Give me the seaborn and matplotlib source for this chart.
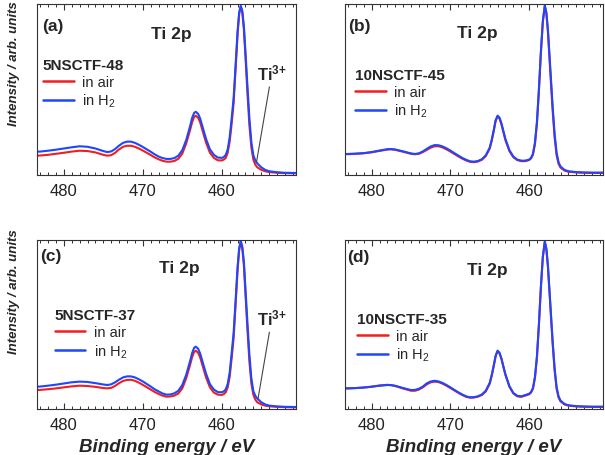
import numpy as np
import pandas as pd
import matplotlib
matplotlib.use("Agg")
import matplotlib.pyplot as plt
from matplotlib.ticker import MultipleLocator
from matplotlib import font_manager
import seaborn as sns

# ---------------- data ----------------
ev_ac = [483.4, 483, 482, 481, 480, 479, 478, 477, 476, 475,
         474.5, 474, 473.5, 473, 472.5, 472, 471.5, 471, 470.5, 470,
         469.5, 469, 468.5, 468, 467.5, 467, 466.5, 466, 465.5, 465,
         464.5, 464, 463.75, 463.5, 463.3, 463, 462.75, 462.5, 462.25, 462,
         461.5, 461, 460.5, 460, 459.75, 459.5, 459.25, 459, 458.75, 458.5,
         458.25, 458, 457.8, 457.6, 457.4, 457.2, 457, 456.75, 456.5, 456.25,
         456, 455.75, 455.5, 455, 454.5, 454, 453, 452, 451, 450.6]

ev_bd = [483.4, 483, 482, 481, 480, 479, 478, 477.5, 477, 476,
         475, 474.5, 474, 473.5, 473, 472.5, 472, 471.5, 471, 470.5,
         470, 469.5, 469, 468.5, 468, 467.5, 467, 466.5, 466, 465.5,
         465, 464.75, 464.5, 464.25, 464, 463.75, 463.5, 463.25, 463, 462.5,
         462, 461.5, 461, 460.5, 460, 459.75, 459.5, 459.25, 459, 458.75,
         458.5, 458.25, 458, 457.8, 457.6, 457.4, 457.2, 457, 456.75, 456.5,
         456.25, 456, 455.5, 455, 454, 453, 452, 451, 450.6]

a_air = [0.113, 0.114, 0.118, 0.124, 0.130, 0.137, 0.142, 0.140, 0.132, 0.118,
         0.113, 0.116, 0.130, 0.150, 0.165, 0.171, 0.171, 0.165, 0.155, 0.143,
         0.130, 0.117, 0.103, 0.092, 0.083, 0.078, 0.078, 0.082, 0.095, 0.125,
         0.185, 0.265, 0.310, 0.340, 0.347, 0.335, 0.310, 0.270, 0.230, 0.190,
         0.130, 0.100, 0.086, 0.085, 0.090, 0.100, 0.130, 0.195, 0.300, 0.420,
         0.620, 0.820, 0.940, 0.985, 0.950, 0.850, 0.690, 0.480, 0.290, 0.160,
         0.090, 0.060, 0.045, 0.030, 0.022, 0.017, 0.013, 0.011, 0.010, 0.010]
a_h2 = [0.136, 0.137, 0.142, 0.148, 0.155, 0.162, 0.168, 0.165, 0.155, 0.140,
        0.134, 0.138, 0.152, 0.172, 0.188, 0.195, 0.195, 0.188, 0.177, 0.164,
        0.150, 0.136, 0.121, 0.108, 0.099, 0.094, 0.094, 0.099, 0.113, 0.145,
        0.205, 0.288, 0.335, 0.363, 0.370, 0.358, 0.332, 0.292, 0.252, 0.212,
        0.150, 0.118, 0.102, 0.100, 0.105, 0.117, 0.150, 0.220, 0.330, 0.450,
        0.640, 0.840, 0.950, 0.990, 0.960, 0.870, 0.720, 0.520, 0.330, 0.190,
        0.115, 0.085, 0.068, 0.045, 0.030, 0.022, 0.016, 0.013, 0.012, 0.012]

c_air = [0.112, 0.113, 0.117, 0.122, 0.128, 0.134, 0.138, 0.136, 0.131, 0.124,
         0.122, 0.125, 0.137, 0.153, 0.166, 0.172, 0.173, 0.167, 0.156, 0.143,
         0.129, 0.115, 0.101, 0.089, 0.079, 0.073, 0.074, 0.079, 0.092, 0.122,
         0.183, 0.263, 0.308, 0.338, 0.345, 0.333, 0.307, 0.268, 0.228, 0.188,
         0.128, 0.097, 0.085, 0.083, 0.088, 0.099, 0.128, 0.190, 0.300, 0.420,
         0.620, 0.820, 0.940, 0.990, 0.950, 0.850, 0.680, 0.470, 0.280, 0.150,
         0.085, 0.055, 0.040, 0.027, 0.020, 0.016, 0.013, 0.011, 0.010, 0.010]
c_h2 = [0.132, 0.133, 0.138, 0.144, 0.151, 0.158, 0.162, 0.160, 0.153, 0.145,
        0.142, 0.146, 0.158, 0.174, 0.187, 0.193, 0.193, 0.187, 0.176, 0.163,
        0.148, 0.133, 0.117, 0.104, 0.092, 0.085, 0.086, 0.093, 0.108, 0.142,
        0.203, 0.286, 0.332, 0.362, 0.369, 0.357, 0.330, 0.290, 0.250, 0.210,
        0.147, 0.115, 0.100, 0.099, 0.104, 0.116, 0.148, 0.215, 0.330, 0.450,
        0.640, 0.840, 0.950, 0.995, 0.960, 0.870, 0.710, 0.510, 0.320, 0.180,
        0.105, 0.078, 0.062, 0.040, 0.027, 0.020, 0.015, 0.013, 0.012, 0.012]

b_air = [0.122, 0.122, 0.124, 0.127, 0.133, 0.141, 0.149, 0.150, 0.147, 0.136,
         0.124, 0.121, 0.124, 0.134, 0.147, 0.160, 0.168, 0.168, 0.161, 0.150,
         0.137, 0.123, 0.109, 0.096, 0.085, 0.077, 0.075, 0.079, 0.089, 0.111,
         0.155, 0.200, 0.255, 0.316, 0.343, 0.330, 0.294, 0.248, 0.203, 0.140,
         0.104, 0.087, 0.081, 0.081, 0.087, 0.097, 0.120, 0.182, 0.300, 0.490,
         0.710, 0.895, 0.990, 0.945, 0.835, 0.680, 0.525, 0.375, 0.220, 0.115,
         0.065, 0.043, 0.026, 0.019, 0.015, 0.013, 0.012, 0.012, 0.012]
b_h2 = [0.123, 0.123, 0.125, 0.128, 0.134, 0.143, 0.151, 0.152, 0.149, 0.138,
        0.126, 0.123, 0.127, 0.138, 0.153, 0.167, 0.175, 0.174, 0.167, 0.156,
        0.143, 0.128, 0.114, 0.100, 0.089, 0.080, 0.078, 0.082, 0.092, 0.115,
        0.160, 0.205, 0.260, 0.320, 0.347, 0.335, 0.300, 0.255, 0.210, 0.145,
        0.108, 0.090, 0.084, 0.084, 0.090, 0.100, 0.125, 0.190, 0.310, 0.500,
        0.720, 0.900, 0.990, 0.950, 0.850, 0.700, 0.550, 0.400, 0.240, 0.130,
        0.075, 0.050, 0.030, 0.022, 0.017, 0.015, 0.014, 0.014, 0.014]

d_air = [0.122, 0.122, 0.124, 0.127, 0.132, 0.139, 0.143, 0.141, 0.136, 0.121,
         0.108, 0.108, 0.115, 0.128, 0.146, 0.158, 0.162, 0.159, 0.150, 0.138,
         0.124, 0.110, 0.096, 0.083, 0.072, 0.067, 0.068, 0.073, 0.083, 0.104,
         0.150, 0.196, 0.252, 0.312, 0.343, 0.330, 0.294, 0.246, 0.201, 0.132,
         0.092, 0.075, 0.072, 0.079, 0.087, 0.097, 0.121, 0.185, 0.305, 0.495,
         0.715, 0.898, 0.990, 0.945, 0.840, 0.688, 0.535, 0.385, 0.228, 0.120,
         0.068, 0.045, 0.027, 0.020, 0.015, 0.013, 0.012, 0.012, 0.012]
d_h2 = [0.122, 0.122, 0.124, 0.127, 0.132, 0.138, 0.142, 0.141, 0.137, 0.124,
        0.112, 0.113, 0.120, 0.133, 0.152, 0.163, 0.167, 0.163, 0.154, 0.142,
        0.128, 0.113, 0.099, 0.086, 0.075, 0.069, 0.070, 0.075, 0.086, 0.108,
        0.155, 0.200, 0.255, 0.315, 0.345, 0.332, 0.297, 0.250, 0.205, 0.135,
        0.095, 0.078, 0.075, 0.082, 0.090, 0.100, 0.125, 0.190, 0.310, 0.500,
        0.720, 0.900, 0.990, 0.950, 0.850, 0.700, 0.550, 0.400, 0.240, 0.130,
        0.075, 0.050, 0.030, 0.022, 0.017, 0.015, 0.014, 0.014, 0.014]

panel_tags = ["(a)", "(b)", "(c)", "(d)"]
sample_names = ["5NSCTF-48", "10NSCTF-45", "5NSCTF-37", "10NSCTF-35"]
conditions = ["in air", "in H$_2$"]
x_ticks = [480, 470, 460]

# ---------------- build table ----------------
series = {
    0: (ev_ac, a_air, a_h2),
    1: (ev_bd, b_air, b_h2),
    2: (ev_ac, c_air, c_h2),
    3: (ev_bd, d_air, d_h2),
}
rows = []
for p, (ev, air, h2) in series.items():
    for e, v in zip(ev, air):
        rows.append((p, conditions[0], e, v))
    for e, v in zip(ev, h2):
        rows.append((p, conditions[1], e, v))
df = pd.DataFrame(rows, columns=["panel", "cond", "ev", "I"])

# ---------------- style ----------------
sns.set_style("ticks")
plt.rcParams["font.family"] = ["Liberation Sans", "DejaVu Sans"]
plt.rcParams["mathtext.fontset"] = "custom"
plt.rcParams["mathtext.rm"] = "Liberation Sans"
plt.rcParams["mathtext.it"] = "Liberation Sans:italic"
plt.rcParams["mathtext.bf"] = "Liberation Sans:bold"

installed = {f.name for f in font_manager.fontManager.ttflist}
ylab_family = (["Liberation Sans Narrow", "Liberation Sans"]
               if "Liberation Sans Narrow" in installed else ["Liberation Sans"])
ylab_size = 11.5 if "Liberation Sans Narrow" in installed else 9.5

palette = {conditions[0]: "#f01e1e", conditions[1]: "#1e46ff"}

fig = plt.figure(figsize=(6.05, 4.56), dpi=100)
W, H = 605, 456
boxes = [(37, 5, 296, 176), (345, 5, 603, 176),
         (37, 241, 296, 410), (345, 241, 603, 410)]
axes = []
for (l, t, r, b) in boxes:
    axes.append(fig.add_axes([l / W, 1 - b / H, (r - l) / W, (b - t) / H]))

legend_pos = [(0.023, 0.685), (0.039, 0.625), (0.069, 0.595), (0.047, 0.575)]
tag_pos = [(0.019, 0.85), (0.012, 0.85), (0.012, 0.88), (0.008, 0.875)]
title_pos = [(0.517, 0.80), (0.514, 0.805), (0.55, 0.812), (0.552, 0.80)]

for i, ax in enumerate(axes):
    sub = df[df.panel == i]
    sns.lineplot(data=sub, x="ev", y="I", hue="cond", hue_order=conditions,
                 palette=palette, estimator=None, lw=1.5, ax=ax, legend=False)
    ax.set_xlim(483.4, 450.6)
    ax.set_ylim(0, 1.0)
    ax.set_yticks([])
    ax.set_xticks(x_ticks)
    ax.xaxis.set_minor_locator(MultipleLocator(1))
    ax.tick_params(axis="x", which="major", direction="in", top=True,
                   length=4.5, width=0.8, labelsize=12, pad=6,
                   colors="#333333", labelcolor="#222222")
    ax.tick_params(axis="x", which="minor", direction="in", top=True,
                   length=2.2, width=0.7, colors="#333333")
    for s in ax.spines.values():
        s.set_visible(True)
        s.set_linewidth(0.8)
        s.set_color("#333333")
    ax.set_xlabel("")
    ax.set_ylabel("")

    lines = ax.get_lines()[:2]
    leg = ax.legend(lines, conditions, title=sample_names[i], loc="upper left",
                    bbox_to_anchor=legend_pos[i], frameon=False, fontsize=10.5,
                    handlelength=2.1, handletextpad=0.55, labelspacing=0.2,
                    borderpad=0, borderaxespad=0, alignment="left",
                    title_fontproperties={"weight": "bold", "size": 11})
    for ln in leg.get_lines():
        ln.set_linewidth(1.8)

    ax.text(*tag_pos[i], panel_tags[i], transform=ax.transAxes,
            fontsize=12.5, fontweight="bold", ha="left", va="baseline")
    ax.text(*title_pos[i], "Ti 2p", transform=ax.transAxes,
            fontsize=12.5, fontweight="bold", ha="center", va="baseline")

# Ti3+ annotations
for ax, pt, tx in [(axes[0], (455.6, 0.076), (455.56, 0.56)),
                   (axes[2], (455.4, 0.063), (455.56, 0.50))]:
    ax.annotate(r"$\mathbf{Ti^{3\!+}}$", xy=pt, xytext=tx, textcoords="data",
                fontsize=12, ha="left", va="baseline",
                arrowprops=dict(arrowstyle="-", color="#444444", lw=0.8,
                                shrinkA=1, shrinkB=0))

# axis labels
for ax, yc in [(axes[0], 0.66), (axes[2], 0.70)]:
    ax.set_ylabel("Intensity / arb. units", fontsize=ylab_size,
                  fontweight="bold", fontstyle="italic", family=ylab_family)
    ax.yaxis.set_label_coords(-0.065, yc)
for ax in (axes[2], axes[3]):
    ax.set_xlabel("Binding energy / eV", fontsize=13.5, fontweight="bold",
                  fontstyle="italic", labelpad=4)

fig.savefig("out.png", dpi=100)
